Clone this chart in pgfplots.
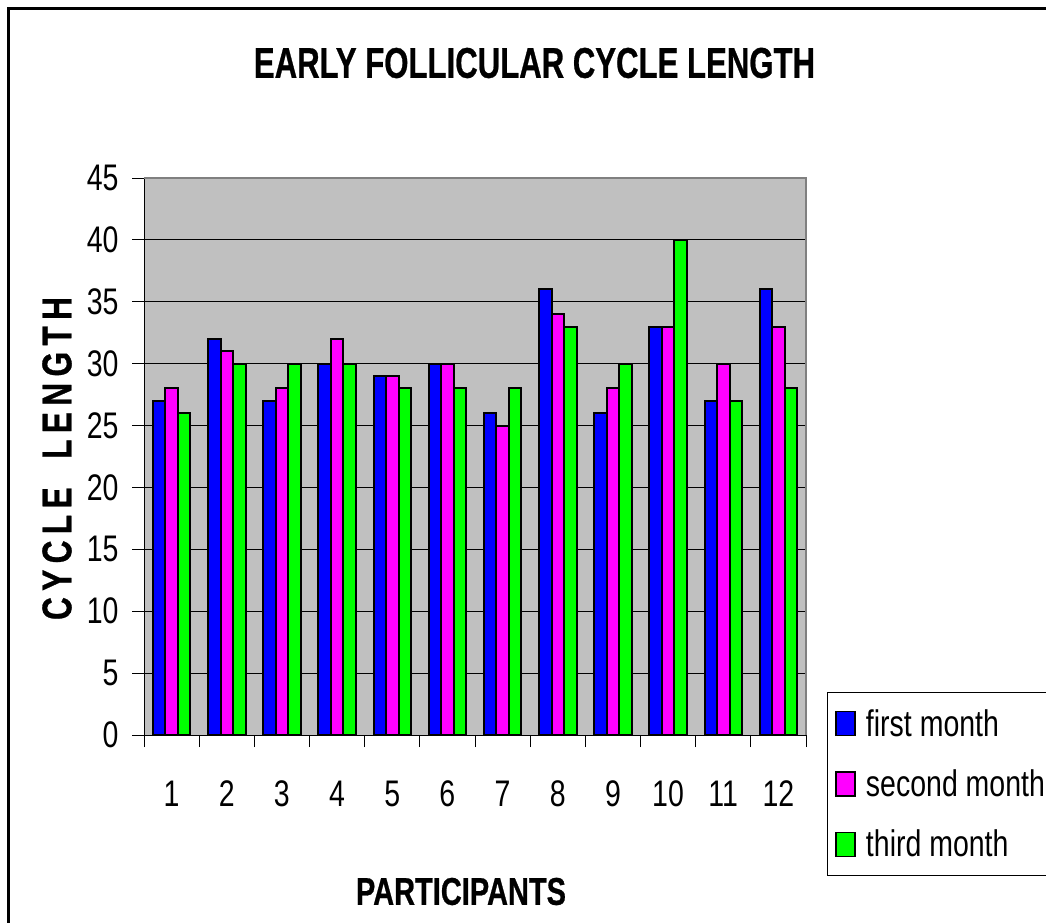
\documentclass[border=0pt]{standalone}
\usepackage{pgfplots}
\pgfplotsset{compat=1.18}
\usepackage{fontspec}
\setmainfont{Liberation Sans}[FakeStretch=0.77]
\newfontfamily\plainfont{Liberation Sans}[BoldFeatures={FakeBold=0.8}]
\definecolor{bgGray}{HTML}{C0C0C0}
\definecolor{barBlue}{HTML}{0000FF}
\definecolor{barMag}{HTML}{FF00FF}
\definecolor{barGreen}{HTML}{00FF00}
\pgfplotsset{
  swatch/.style={legend image code/.code={\draw[##1, line width=1.5pt] (0pt,-12pt) rectangle (19pt,12pt);}}
}
\begin{document}
\begin{tikzpicture}
\path[use as bounding box] (0pt,0pt) rectangle (1046pt,-922pt);
\draw[line width=2.5pt] (8.7pt,-8.7pt) rectangle (1070pt,-940pt);
\node at (534.5pt,-63pt) {\resizebox{561pt}{30pt}{\plainfont\bfseries EARLY FOLLICULAR CYCLE LENGTH}};
\node at (461pt,-891.5pt) {\resizebox{210pt}{27pt}{\plainfont\bfseries PARTICIPANTS}};
\node[rotate=90] at (57pt,-458.5pt) {\resizebox{323pt}{29pt}{\plainfont\bfseries C\hspace{2pt}Y\hspace{2pt}C\hspace{2pt}L\hspace{2pt}E\hspace{9pt}L\hspace{2pt}E\hspace{2pt}N\hspace{2pt}G\hspace{2pt}T\hspace{2pt}H}};
\begin{axis}[
  at={(144pt,-735pt)}, anchor=south west,
  width=662pt, height=557pt, scale only axis,
  xmin=0.5, xmax=12.5, ymin=0, ymax=45,
  ybar=0pt, bar width=12.5pt,
  xtick={0.5,1.5,...,12.5}, x tick label as interval,
  xticklabels={1,2,3,4,5,6,7,8,9,10,11,12,{}},
  ytick={0,5,...,45},
  ymajorgrids, grid style={black, line width=0.8pt},
  tick align=outside, major tick length=12pt,
  axis x line*=bottom, axis y line*=left,
  axis line style={black, line width=1pt},
  tick style={black, line width=1pt},
  axis background/.style={fill=bgGray},
  ticklabel style={font=\fontsize{37}{44}\selectfont},
  xticklabel style={yshift=-30pt},
  yticklabel style={xshift=-10pt},
  /pgf/number format/assume math mode=true,
  clip=false,
  legend style={font=\fontsize{37}{44}\selectfont, at={(1.0317,0.0772)}, anchor=north west,
    draw=black, line width=1pt, inner xsep=8pt, inner ysep=17pt, row sep=32pt,
    nodes={inner sep=0pt}, legend cell align=left,
    /tikz/every odd column/.append style={column sep=10pt}},
  extra description/.code={\draw[gray, line width=1.5pt] (rel axis cs:0,1) -- (rel axis cs:1,1) -- (rel axis cs:1,0);},
]
\addplot[fill=barBlue, draw=black, line width=2pt, swatch] coordinates {
(1,27) (2,32) (3,27) (4,30) (5,29) (6,30) (7,26) (8,36) (9,26) (10,33) (11,27) (12,36)};
\addplot[fill=barMag, draw=black, line width=2pt, swatch] coordinates {
(1,28) (2,31) (3,28) (4,32) (5,29) (6,30) (7,25) (8,34) (9,28) (10,33) (11,30) (12,33)};
\addplot[fill=barGreen, draw=black, line width=2pt, swatch] coordinates {
(1,26) (2,30) (3,30) (4,30) (5,28) (6,28) (7,28) (8,33) (9,30) (10,40) (11,27) (12,28)};
\legend{first month, second month, third month}
\end{axis}
\end{tikzpicture}
\end{document}
